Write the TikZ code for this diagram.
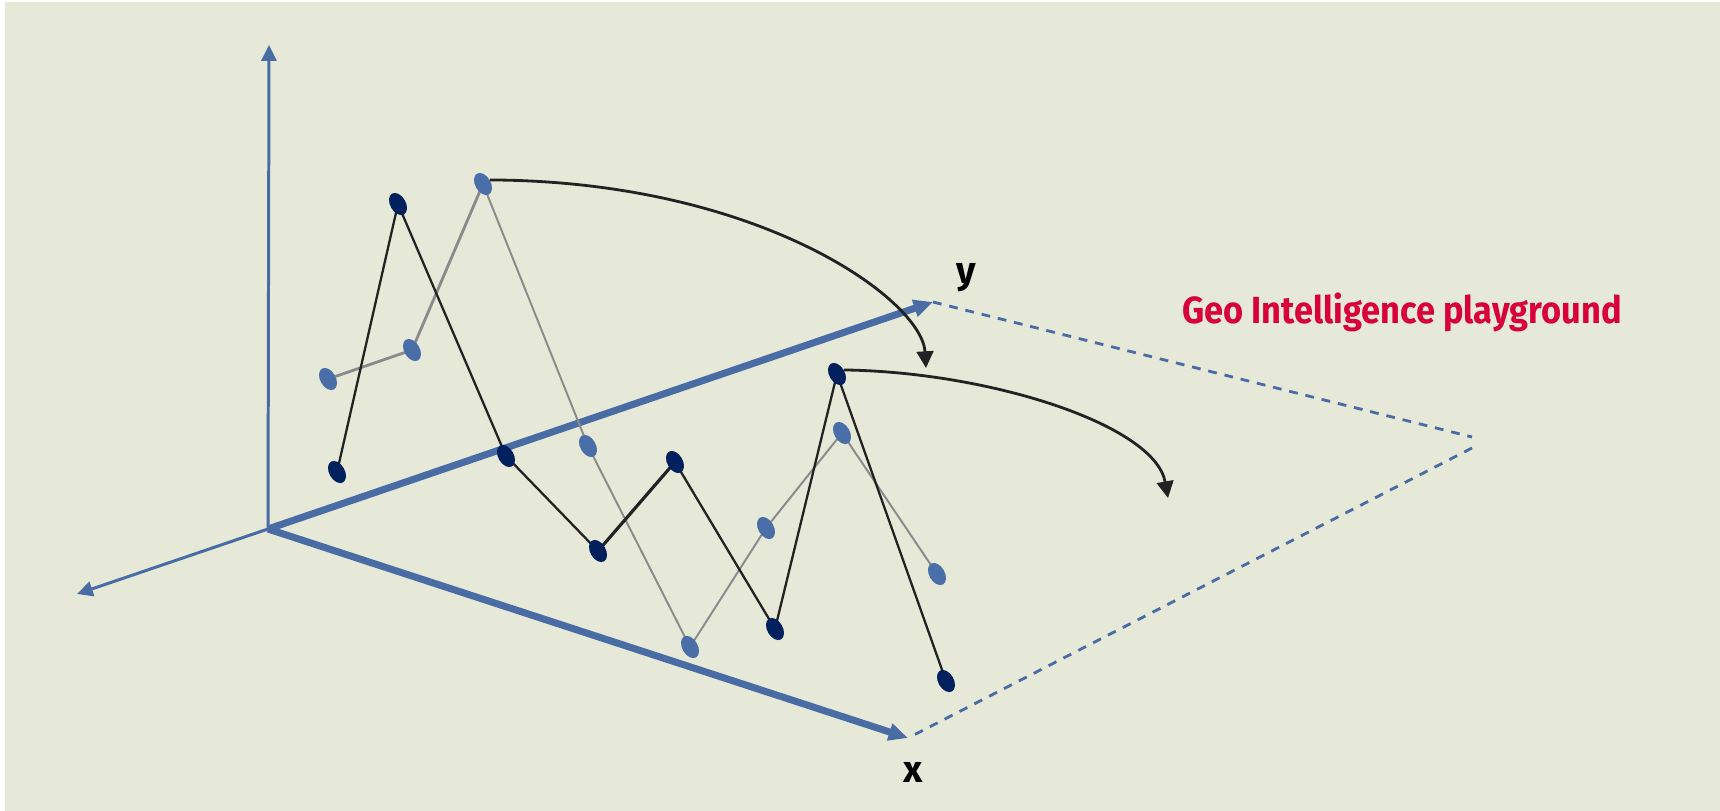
\documentclass[tikz,border=0pt]{standalone}
\usepackage{fontspec}
\usepackage{graphicx}
\setmainfont{Fira Sans}
\usetikzlibrary{arrows.meta,shapes.geometric}
\pgfdeclarelayer{back}
\pgfsetlayers{back,main}
\definecolor{bgcol}{HTML}{E6E8D8}
\definecolor{axisblue}{HTML}{4A6CA5}
\definecolor{lightdot}{HTML}{4A6EA8}
\definecolor{navy}{HTML}{00205E}
\definecolor{greyline}{HTML}{8A8A8A}
\definecolor{darkline}{HTML}{222222}
\definecolor{geored}{HTML}{D9003A}
\begin{document}
\begin{tikzpicture}[x=0.02cm,y=-0.02cm,
  axis/.style={draw=axisblue,line width=1.7pt,-{Triangle[length=9pt,width=8.5pt]}},
  mainaxis/.style={draw=axisblue,line width=4pt,-{Triangle[length=11pt,width=9.5pt]}},
  rim/.style={draw=axisblue,line width=1.6pt,dash pattern=on 5pt off 4.5pt},
  darkdot/.style={ellipse,fill=navy,inner sep=0pt,minimum width=0.31cm,minimum height=0.48cm,rotate=30},
  lightdot/.style={darkdot,fill=lightdot},
  darkchain/.style={draw=darkline,line width=1.3pt,line join=round},
  greychain/.style={draw=greyline,line width=1.1pt,line join=round},
  turn/.style={draw=darkline,line width=1.6pt,-{Triangle[length=9.5pt,width=9.5pt]}},
  lbl/.style={font=\fontsize{21.5}{24}\selectfont\bfseries,inner sep=0pt}]
\useasboundingbox (0,0) rectangle (1720,811);

% axes
\coordinate (o) at (268,529);
\coordinate (up) at (269,45);
\coordinate (left) at (77,594);
\coordinate (xend) at (908,738);
\coordinate (yend) at (933,302);
\coordinate (c1) at (1472,437);
\coordinate (c2) at (1472,448);

% dark points
\node[darkdot] (d1) at (337,472) {};
\node[darkdot] (d2) at (398,204) {};
\node[darkdot] (d3) at (506,456) {};
\node[darkdot] (d4) at (598,551) {};
\node[darkdot] (d5) at (675,462) {};
\node[darkdot] (d6) at (775,629) {};
\node[darkdot] (d7) at (837,374) {};
\node[darkdot] (d8) at (946,681) {};

% light points
\node[lightdot] (l1) at (328,379) {};
\node[lightdot] (l2) at (412,350) {};
\node[lightdot] (l3) at (483,184) {};
\node[lightdot] (l4) at (588,446) {};
\node[lightdot] (l5) at (690,647) {};
\node[lightdot] (l6) at (766,528) {};
\node[lightdot] (l7) at (842,433) {};
\node[lightdot] (l8) at (937,574) {};

\begin{pgfonlayer}{back}
\fill[white] (0,0) rectangle (1720,811);
\fill[bgcol] (5,2) rectangle (1720,811);
\draw[axis] (o) -- (up);
\draw[axis] (o) -- (left);
\draw[rim] (yend) -- (c1);
\draw[rim] (c2) -- (xend);
\draw[mainaxis] (o) -- (xend);
\draw[mainaxis] (o) -- (yend);
\draw[greychain,line width=1.6pt] (l1.center) -- (l2.center) -- (l3.center);
\draw[greychain] (l3.center) -- (l4.center) -- (l5.center) -- (l6.center) -- (l7.center) -- (l8.center);
\draw[darkchain] (d1.center) -- (d2.center) -- (d3.center) -- (d4.center);
\draw[darkchain,line width=1.8pt] (d4.center) -- (d5.center);
\draw[darkchain] (d5.center) -- (d6.center) -- (d7.center) -- (d8.center);
\end{pgfonlayer}

% moves
\coordinate (t1) at (926,368);
\coordinate (t2) at (1168,498);
\draw[turn] (l3.east) .. controls (760,181) and (922,300) .. (t1);
\draw[turn] (d7.east) .. controls (990,372) and (1155,425) .. (t2);

% labels
\node[lbl,anchor=base] (xlab) at (913,782) {x};
\node[lbl,anchor=base] (ylab) at (966,283) {y};
\node[lbl,anchor=base west,text=geored] (title) at (1182,323) {\scalebox{0.91}[1]{Geo Intelligence playground}};
\end{tikzpicture}
\end{document}
